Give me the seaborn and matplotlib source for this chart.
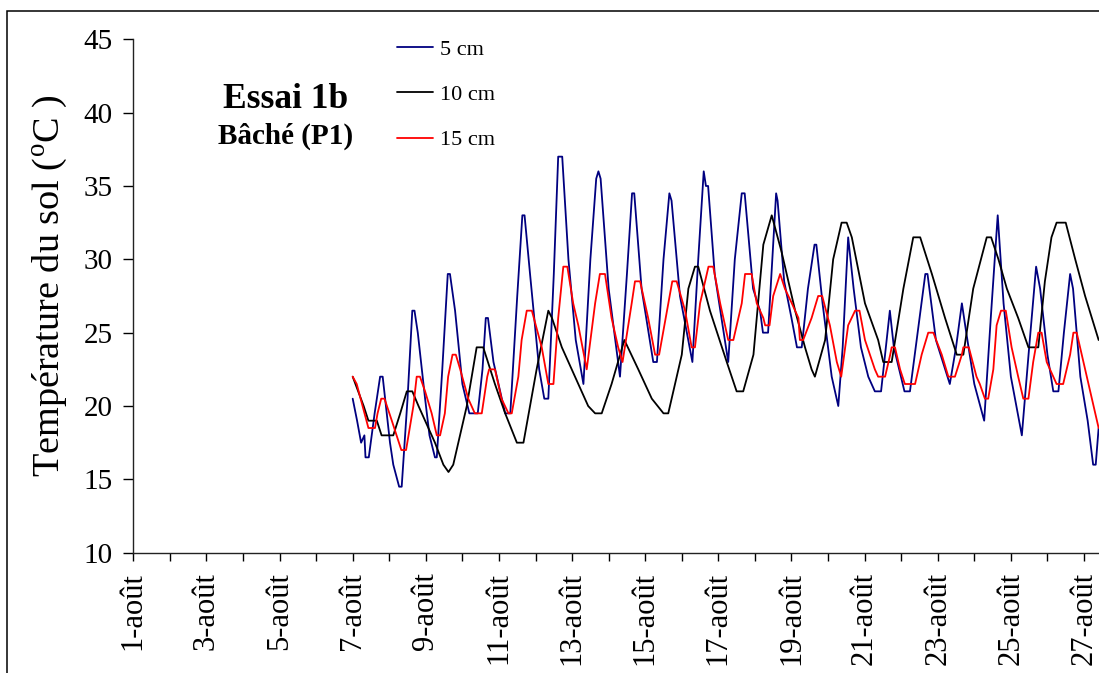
import matplotlib
matplotlib.use("Agg")
import matplotlib.pyplot as plt
from matplotlib.patches import Rectangle
import pandas as pd
import seaborn as sns

# Temps en jours depuis le 1er août 00h00, températures en °C
jours_5cm = [6.00, 6.12, 6.23, 6.32, 6.35, 6.44, 6.60, 6.75, 6.82, 7.02, 7.11, 7.27, 7.34,
             7.50, 7.63, 7.69, 7.78, 7.98, 8.10, 8.25, 8.30, 8.45, 8.60, 8.66, 8.80, 9.00,
             9.19, 9.42, 9.55, 9.64, 9.70, 9.85, 10.17, 10.31, 10.50, 10.64, 10.70, 10.85,
             11.10, 11.24, 11.35, 11.50, 11.62, 11.73, 11.90, 12.10, 12.31, 12.50, 12.66,
             12.72, 12.78, 13.00, 13.31, 13.50, 13.64, 13.70, 13.90, 14.22, 14.32, 14.50,
             14.66, 14.72, 14.95, 15.29, 15.45, 15.60, 15.66, 15.72, 15.90, 16.27, 16.45,
             16.64, 16.72, 16.95, 17.14, 17.22, 17.36, 17.50, 17.58, 17.62, 17.80, 18.00,
             18.15, 18.28, 18.45, 18.63, 18.68, 18.85, 19.10, 19.28, 19.40, 19.55, 19.70,
             19.90, 20.10, 20.28, 20.45, 20.58, 20.69, 20.80, 21.09, 21.24, 21.45, 21.66,
             21.72, 21.95, 22.33, 22.50, 22.66, 22.78, 23.00, 23.27, 23.45, 23.64, 23.80,
             24.00, 24.30, 24.50, 24.69, 24.80, 25.00, 25.16, 25.30, 25.45, 25.62, 25.70,
             25.90, 26.10, 26.25, 26.32, 26.40]
temp_5cm = [20.5, 19.0, 17.5, 18.0, 16.5, 16.5, 19.5, 22.0, 22.0, 17.5, 16.0, 14.5, 14.5,
            20.5, 26.5, 26.5, 25.0, 20.5, 18.0, 16.5, 16.5, 22.5, 29.0, 29.0, 26.5, 21.5,
            19.5, 19.5, 22.5, 26.0, 26.0, 23.0, 19.5, 19.5, 27.5, 33.0, 33.0, 29.0,
            22.5, 20.5, 20.5, 29.0, 37.0, 37.0, 30.0, 24.5, 21.5, 30.0, 35.5,
            36.0, 35.5, 28.0, 22.0, 29.0, 34.5, 34.5, 28.0, 23.0, 23.0, 30.0,
            34.5, 34.0, 27.5, 23.0, 30.0, 36.0, 35.0, 35.0, 29.0, 23.0, 30.0,
            34.5, 34.5, 28.0, 26.5, 25.0, 25.0, 31.0, 34.5, 34.0, 28.5, 26.0,
            24.0, 24.0, 28.0, 31.0, 31.0, 27.0, 22.0, 20.0, 24.0, 31.5, 28.0,
            24.0, 22.0, 21.0, 21.0, 24.0, 26.5, 24.0, 21.0, 21.0, 25.0, 29.0,
            29.0, 24.5, 21.5, 24.0, 27.0, 25.0, 21.5, 19.0, 26.0, 33.0, 27.0,
            22.0, 18.0, 24.0, 29.5, 28.0, 23.5, 21.0, 21.0, 25.0, 29.0, 28.0,
            22.0, 19.0, 16.0, 16.0, 18.5]

jours_10cm = [6.00, 6.15, 6.30, 6.43, 6.66, 6.79, 7.11, 7.30, 7.48, 7.63, 7.80, 7.98, 8.25,
              8.48, 8.62, 8.75, 9.12, 9.39, 9.57, 9.89, 10.17, 10.49, 10.67, 11.03, 11.35,
              11.45, 11.72, 12.08, 12.44, 12.63, 12.81, 13.08, 13.43, 13.81, 14.18, 14.50,
              14.63, 15.00, 15.18, 15.36, 15.45, 15.77, 16.23, 16.50, 16.68, 16.96, 17.23,
              17.46, 17.73, 18.10, 18.37, 18.55, 18.64, 18.92, 19.14, 19.37, 19.51, 19.65,
              20.01, 20.37, 20.51, 20.74, 21.06, 21.33, 21.52, 21.84, 22.20, 22.52, 22.70,
              22.97, 23.34, 23.46, 23.66, 23.89, 24.20, 24.48, 24.75, 24.93, 25.11, 25.25,
              25.50, 25.76, 26.03, 26.40]
temp_10cm = [22.0, 21.0, 20.0, 19.0, 19.0, 18.0, 18.0, 19.5, 21.0, 21.0, 20.0, 19.0, 17.5,
             16.0, 15.5, 16.0, 20.0, 24.0, 24.0, 21.5, 19.5, 17.5, 17.5, 22.5, 26.5,
             26.0, 24.0, 22.0, 20.0, 19.5, 19.5, 21.5, 24.5, 22.5, 20.5, 19.5,
             19.5, 23.5, 28.0, 29.5, 29.5, 26.5, 23.0, 21.0, 21.0, 23.5, 31.0,
             33.0, 30.5, 26.5, 24.0, 22.5, 22.0, 24.5, 30.0, 32.5, 32.5, 31.5,
             27.0, 24.5, 23.0, 23.0, 28.0, 31.5, 31.5, 29.0, 26.0, 23.5, 23.5,
             28.0, 31.5, 31.5, 30.0, 28.0, 26.0, 24.0, 24.0, 28.5, 31.5, 32.5,
             32.5, 30.0, 27.5, 24.5]

jours_15cm = [6.00, 6.11, 6.43, 6.61, 6.68, 6.78, 6.87, 7.07, 7.33, 7.46, 7.66, 7.75, 7.84,
              7.98, 8.16, 8.30, 8.39, 8.52, 8.61, 8.73, 8.82, 8.94, 9.16, 9.34, 9.53, 9.68,
              9.73, 9.89, 10.07, 10.26, 10.35, 10.53, 10.62, 10.76, 10.90, 11.17, 11.35,
              11.49, 11.62, 11.76, 11.87, 12.03, 12.17, 12.40, 12.63, 12.76, 12.90, 13.08,
              13.26, 13.38, 13.63, 13.72, 13.86, 14.08, 14.27, 14.38, 14.63, 14.74, 14.86,
              15.09, 15.27, 15.36, 15.50, 15.73, 15.86, 16.05, 16.27, 16.41, 16.64, 16.73,
              16.91, 17.05, 17.23, 17.28, 17.40, 17.50, 17.69, 17.82, 18.01, 18.19, 18.23,
              18.32, 18.55, 18.73, 18.84, 19.05, 19.24, 19.36, 19.55, 19.74, 19.86, 20.01,
              20.28, 20.37, 20.56, 20.70, 20.74, 20.83, 20.97, 21.10, 21.38, 21.56, 21.74,
              21.88, 22.11, 22.29, 22.47, 22.66, 22.70, 22.85, 23.06, 23.15, 23.29, 23.38,
              23.52, 23.61, 23.73, 23.86, 24.02, 24.20, 24.34, 24.48, 24.61, 24.75, 24.84,
              24.98, 25.16, 25.25, 25.43, 25.62, 25.71, 25.80, 26.40]
temp_15cm = [22.0, 21.5, 18.5, 18.5, 19.5, 20.5, 20.5, 19.0, 17.0, 17.0, 20.0, 22.0, 22.0,
             21.0, 19.5, 18.0, 18.0, 19.5, 22.0, 23.5, 23.5, 22.5, 20.5, 19.5, 19.5, 22.0,
             22.5, 22.5, 20.5, 19.5, 19.5, 22.0, 24.5, 26.5, 26.5, 24.0, 21.5,
             21.5, 26.0, 29.5, 29.5, 27.0, 25.5, 22.5, 27.0, 29.0, 29.0, 26.0,
             24.0, 23.0, 27.0, 28.5, 28.5, 26.0, 23.5, 23.5, 27.0, 28.5, 28.5,
             26.5, 24.0, 24.0, 27.0, 29.5, 29.5, 27.0, 24.5, 24.5, 27.0, 29.0,
             29.0, 27.0, 26.0, 25.5, 25.5, 27.5, 29.0, 28.0, 27.0, 26.0, 24.5,
             24.5, 26.0, 27.5, 27.5, 25.5, 23.0, 22.0, 25.5, 26.5, 26.5, 24.5,
             22.5, 22.0, 22.0, 23.5, 24.0, 24.0, 22.5, 21.5, 21.5, 23.5, 25.0,
             25.0, 23.5, 22.0, 22.0, 23.5, 24.0, 24.0, 22.0, 21.5, 20.5, 20.5,
             22.5, 25.5, 26.5, 26.5, 24.0, 22.0, 20.5, 20.5, 23.0, 25.0, 25.0,
             23.0, 22.0, 21.5, 21.5, 23.5, 25.0, 25.0, 18.5]

profondeurs = ["5 cm", "10 cm", "15 cm"]
couleurs = ["#000080", "#000000", "#FF0000"]
jours_graduation = list(range(0, 27))
etiquettes_dates = [f"{j + 1}-août" if j % 2 == 0 else "" for j in jours_graduation]
graduations_temp = [10, 15, 20, 25, 30, 35, 40, 45]

df = pd.concat([
    pd.DataFrame({"jour": jours_5cm, "temperature": temp_5cm, "profondeur": profondeurs[0]}),
    pd.DataFrame({"jour": jours_10cm, "temperature": temp_10cm, "profondeur": profondeurs[1]}),
    pd.DataFrame({"jour": jours_15cm, "temperature": temp_15cm, "profondeur": profondeurs[2]}),
], ignore_index=True)

sns.set_style("ticks")
plt.rcParams["font.family"] = ["Liberation Serif", "DejaVu Serif"]
plt.rcParams["mathtext.fontset"] = "custom"
plt.rcParams["mathtext.rm"] = "Liberation Serif"
for cle in ("text.color", "axes.labelcolor", "xtick.color", "ytick.color"):
    plt.rcParams[cle] = "black"

W, H = 1099, 673
fig = plt.figure(figsize=(W / 100, H / 100), dpi=100)
fig.patch.set_facecolor("white")
x0, x1, y_top, y_bot = 133.3, 1099.0, 39.3, 552.7
ax = fig.add_axes([x0 / W, (H - y_bot) / H, (x1 - x0) / W, (y_bot - y_top) / H])

sns.lineplot(data=df, x="jour", y="temperature", hue="profondeur",
             hue_order=profondeurs, palette=couleurs, estimator=None, sort=False,
             linewidth=1.3, ax=ax)

ax.set_xlim(0, 26.41)
ax.set_ylim(10, 45)
ax.set_yticks(graduations_temp)
ax.set_yticklabels([str(v) for v in graduations_temp], fontsize=21)
ax.set_xticks(jours_graduation)
ax.set_xticklabels(etiquettes_dates, rotation=90, fontsize=22)
ax.tick_params(axis="y", direction="out", length=7, width=1, pad=8)
ax.tick_params(axis="x", direction="out", length=5.8, width=1, pad=8)
sns.despine(ax=ax)
for s in ("left", "bottom"):
    ax.spines[s].set_color("#222222")
    ax.spines[s].set_linewidth(1.0)

ax.set_xlabel("")
ax.set_ylabel("Température du sol ($^{\\mathrm{o}}$C )", fontsize=27.5)
ax.yaxis.set_label_coords(-0.066, 0.52)

x_titre = (286 - x0) / (x1 - x0)
ax.text(x_titre, 0.866, "Essai 1b", transform=ax.transAxes, ha="center", va="baseline",
        fontsize=25.5, fontweight="bold")
ax.text(x_titre, 0.796, "Bâché (P1)", transform=ax.transAxes, ha="center", va="baseline",
        fontsize=21, fontweight="bold")

handles, labels = ax.get_legend_handles_labels()
ax.legend(handles, labels, loc="upper left", bbox_to_anchor=(397 / W, 1 - 39 / H),
          bbox_transform=fig.transFigure, frameon=False, fontsize=16,
          handlelength=1.62, handletextpad=0.3, labelspacing=1.12,
          borderpad=0, borderaxespad=0)

fig.add_artist(Rectangle((7 / W, -0.5), 2.0, 0.5 + 1 - 11 / H, transform=fig.transFigure,
                         fill=False, edgecolor="black", linewidth=1.1))

fig.savefig("out.png", dpi=100)
